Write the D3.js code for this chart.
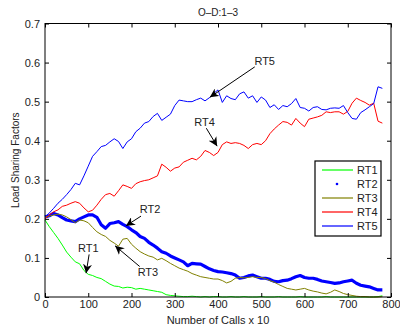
<!DOCTYPE html>
<html>
<head>
<meta charset="utf-8">
<script src="https://cdn.jsdelivr.net/npm/d3@7"></script>
<style>
  body { margin: 0; background: #fff; }
  svg { display: block; font-family: 'Liberation Sans', Arial, sans-serif; }
</style>
</head>
<body>
<svg id="chart" width="400" height="327"></svg>
<script>
// sample grid: number of calls (x 10), one sample every 10
const calls = d3.range(0, 790, 10);

const rt1 = [0.197, 0.18, 0.165, 0.15, 0.133, 0.115, 0.102, 0.09, 0.085, 0.068,
  0.058, 0.055, 0.05, 0.047, 0.04, 0.033, 0.028, 0.027, 0.023, 0.025,
  0.024, 0.02, 0.022, 0.02, 0.018, 0.016, 0.014, 0.012, 0.006, 0.004,
  0.003, 0.002, 0.001, 0.001, 0.002, 0.001, 0, 0.001, 0, 0.001,
  0.001, 0, 0, 0.001, 0, 0, 0.001, 0, 0, 0,
  0.001, 0, 0, 0, 0.001, 0, 0, 0, 0, 0.001,
  0, 0, 0, 0, 0, 0.001, 0, 0, 0, 0,
  0, 0, 0, 0, 0, 0, 0, 0.001, 0.003];

const rt2 = [0.205, 0.208, 0.214, 0.21, 0.203, 0.197, 0.195, 0.193, 0.2, 0.205,
  0.21, 0.21, 0.204, 0.185, 0.176, 0.188, 0.19, 0.193, 0.186, 0.18,
  0.172, 0.165, 0.155, 0.15, 0.14, 0.133, 0.125, 0.116, 0.112, 0.105,
  0.1, 0.095, 0.09, 0.08, 0.086, 0.085, 0.084, 0.078, 0.072, 0.068,
  0.065, 0.064, 0.062, 0.06, 0.056, 0.048, 0.05, 0.054, 0.056, 0.052,
  0.048, 0.048, 0.045, 0.04, 0.039, 0.042, 0.043, 0.047, 0.052, 0.055,
  0.05, 0.048, 0.048, 0.045, 0.041, 0.039, 0.037, 0.035, 0.036, 0.039,
  0.041, 0.043, 0.035, 0.03, 0.028, 0.026, 0.022, 0.018, 0.018];

const rt3 = [0.205, 0.207, 0.21, 0.212, 0.21, 0.205, 0.198, 0.19, 0.197, 0.195,
  0.19, 0.178, 0.167, 0.16, 0.155, 0.145, 0.138, 0.13, 0.148, 0.15,
  0.135, 0.125, 0.116, 0.11, 0.105, 0.102, 0.095, 0.099, 0.093, 0.086,
  0.08, 0.074, 0.07, 0.066, 0.06, 0.056, 0.052, 0.05, 0.048, 0.046,
  0.046, 0.042, 0.036, 0.04, 0.048, 0.05, 0.049, 0.05, 0.052, 0.05,
  0.05, 0.047, 0.042, 0.038, 0.032, 0.027, 0.022, 0.02, 0.018, 0.02,
  0.022, 0.018, 0.015, 0.013, 0.01, 0.008, 0.012, 0.018, 0.014, 0.009,
  0.006, 0.004, 0.002, 0.001, 0.001, 0, 0, 0, 0.001];

const rt4 = [0.2, 0.21, 0.218, 0.223, 0.232, 0.235, 0.24, 0.244, 0.24, 0.228,
  0.218, 0.222, 0.235, 0.25, 0.262, 0.265, 0.258, 0.272, 0.287, 0.283,
  0.278, 0.29, 0.295, 0.298, 0.3, 0.305, 0.31, 0.34, 0.332, 0.322,
  0.33, 0.333, 0.345, 0.35, 0.355, 0.351, 0.36, 0.375, 0.37, 0.362,
  0.37, 0.39, 0.397, 0.393, 0.395, 0.393, 0.388, 0.38, 0.39, 0.393,
  0.39, 0.4, 0.418, 0.43, 0.44, 0.449, 0.447, 0.44, 0.457, 0.445,
  0.436, 0.455, 0.458, 0.461, 0.465, 0.474, 0.472, 0.474, 0.474, 0.468,
  0.475, 0.496, 0.509, 0.503, 0.498, 0.491, 0.496, 0.45, 0.445];

const rt5 = [0.205, 0.215, 0.227, 0.24, 0.25, 0.262, 0.275, 0.291, 0.287, 0.31,
  0.335, 0.36, 0.372, 0.385, 0.388, 0.397, 0.405, 0.398, 0.38, 0.397,
  0.405, 0.423, 0.432, 0.445, 0.449, 0.462, 0.47, 0.452, 0.46, 0.468,
  0.49, 0.504, 0.502, 0.5, 0.5, 0.505, 0.509, 0.502, 0.51, 0.521,
  0.53, 0.498, 0.515, 0.508, 0.505, 0.52, 0.525, 0.509, 0.515, 0.498,
  0.512, 0.504, 0.485, 0.492, 0.48, 0.49, 0.487, 0.495, 0.508, 0.485,
  0.483, 0.476, 0.485, 0.487, 0.48, 0.479, 0.483, 0.484, 0.483, 0.49,
  0.472, 0.457, 0.455, 0.472, 0.479, 0.487, 0.495, 0.538, 0.534];

const seriesNames = ['RT1', 'RT2', 'RT3', 'RT4', 'RT5'];
const seriesValues = [rt1, rt2, rt3, rt4, rt5];
const seriesColors = ['#00ff00', '#0000ff', '#808000', '#ff0000', '#0000ff'];

const xTicks = [0, 100, 200, 300, 400, 500, 600, 700, 800];
const yTicks = [0, 0.1, 0.2, 0.3, 0.4, 0.5, 0.6, 0.7];

// annotation label, label anchor, arrow start, arrow tip (data units)
const notes = [
  { name: 'RT5', text: [508, 0.604], from: [485, 0.589], to: [381, 0.511] },
  { name: 'RT4', text: [369, 0.449], from: [373, 0.432], to: [398, 0.386] },
  { name: 'RT2', text: [243, 0.2265], from: [222, 0.207], to: [187, 0.182] },
  { name: 'RT1', text: [100, 0.126], from: [102, 0.109], to: [95, 0.061] },
  { name: 'RT3', text: [238, 0.065], from: [219, 0.078], to: [162, 0.131] },
];

const margin = { top: 23.5, right: 9, bottom: 30, left: 45 };
const width = 400;
const height = 327;

const svg = d3.select('#chart');

const x = d3.scaleLinear().domain([0, 800]).range([margin.left, width - margin.right]);
const y = d3.scaleLinear().domain([0, 0.7]).range([height - margin.bottom, margin.top]);

const plot = svg.append('g');

// series
const line = d3.line()
  .x((d, i) => x(calls[i]))
  .y((d) => y(d));

seriesValues.forEach((vals, k) => {
  plot.append('path')
    .datum(vals)
    .attr('fill', 'none')
    .attr('stroke', seriesColors[k])
    .attr('stroke-width', seriesNames[k] === 'RT2' ? 3.2 : 1)
    .attr('stroke-linejoin', 'round')
    .attr('d', line);
});

// axes with inward ticks on all four sides
const tickStyle = (g) => {
  g.select('.domain').remove();
  g.selectAll('.tick line').attr('stroke', '#000');
  g.selectAll('.tick text').attr('fill', '#222').style('font-size', '11px');
};

svg.append('g')
  .attr('transform', `translate(0,${y(0)})`)
  .call(d3.axisBottom(x).tickValues(xTicks).tickSizeInner(-4).tickPadding(3).tickFormat(d3.format('d')))
  .call(tickStyle);

svg.append('g')
  .attr('transform', `translate(0,${y(0.7)})`)
  .call(d3.axisTop(x).tickValues(xTicks).tickSizeInner(-4).tickFormat(''))
  .call(tickStyle);

svg.append('g')
  .attr('transform', `translate(${x(0)},0)`)
  .call(d3.axisLeft(y).tickValues(yTicks).tickSizeInner(-4).tickPadding(5).tickFormat((d) => (d === 0 ? '0' : d3.format('.1f')(d))))
  .call(tickStyle);

svg.append('g')
  .attr('transform', `translate(${x(800)},0)`)
  .call(d3.axisRight(y).tickValues(yTicks).tickSizeInner(-4).tickFormat(''))
  .call(tickStyle);

svg.append('rect')
  .attr('x', x(0))
  .attr('y', y(0.7))
  .attr('width', x(800) - x(0))
  .attr('height', y(0) - y(0.7))
  .attr('fill', 'none')
  .attr('stroke', '#000')
  .attr('stroke-width', 1);

// annotations
svg.append('defs').append('marker')
  .attr('id', 'head')
  .attr('viewBox', '0 0 10 10')
  .attr('refX', 10)
  .attr('refY', 5)
  .attr('markerWidth', 9)
  .attr('markerHeight', 9)
  .attr('markerUnits', 'userSpaceOnUse')
  .attr('orient', 'auto')
  .append('path')
  .attr('d', 'M0,0 L10,5 L0,10 L3,5 Z')
  .attr('fill', '#000');

const ann = svg.append('g');
notes.forEach((n) => {
  ann.append('line')
    .attr('x1', x(n.from[0]))
    .attr('y1', y(n.from[1]))
    .attr('x2', x(n.to[0]))
    .attr('y2', y(n.to[1]))
    .attr('stroke', '#000')
    .attr('stroke-width', 1)
    .attr('marker-end', 'url(#head)');
  ann.append('text')
    .attr('x', x(n.text[0]))
    .attr('y', y(n.text[1]))
    .attr('text-anchor', 'middle')
    .attr('dominant-baseline', 'central')
    .style('font-size', '11px')
    .attr('fill', '#222')
    .text(n.name);
});

// legend
const legend = svg.append('g').attr('transform', 'translate(315,161)');
legend.append('rect')
  .attr('width', 66)
  .attr('height', 75)
  .attr('fill', '#fff')
  .attr('stroke', '#000')
  .attr('stroke-width', 1.2);

seriesNames.forEach((name, k) => {
  const row = legend.append('g').attr('transform', `translate(0,${9 + k * 14})`);
  if (name === 'RT2') {
    row.append('circle').attr('cx', 22).attr('cy', 0).attr('r', 1.3).attr('fill', seriesColors[k]);
  } else {
    row.append('line')
      .attr('x1', 7).attr('x2', 38)
      .attr('stroke', seriesColors[k])
      .attr('stroke-width', 1.2);
  }
  row.append('text')
    .attr('x', 42)
    .attr('dominant-baseline', 'central')
    .style('font-size', '11px')
    .attr('fill', '#222')
    .text(name);
});

// titles
svg.append('text')
  .attr('x', (x(0) + x(800)) / 2)
  .attr('y', 12)
  .attr('text-anchor', 'middle')
  .attr('dominant-baseline', 'central')
  .style('font-size', '10px')
  .attr('fill', '#222')
  .text('O–D:1–3');

svg.append('text')
  .attr('x', (x(0) + x(800)) / 2)
  .attr('y', 320)
  .attr('text-anchor', 'middle')
  .attr('dominant-baseline', 'central')
  .style('font-size', '11px')
  .attr('fill', '#222')
  .text('Number of Calls x 10');

svg.append('text')
  .attr('transform', `translate(15,${(y(0) + y(0.7)) / 2}) rotate(-90)`)
  .attr('text-anchor', 'middle')
  .attr('dominant-baseline', 'central')
  .style('font-size', '10px')
  .attr('fill', '#222')
  .text('Load Sharing Factors');
</script>
</body>
</html>
